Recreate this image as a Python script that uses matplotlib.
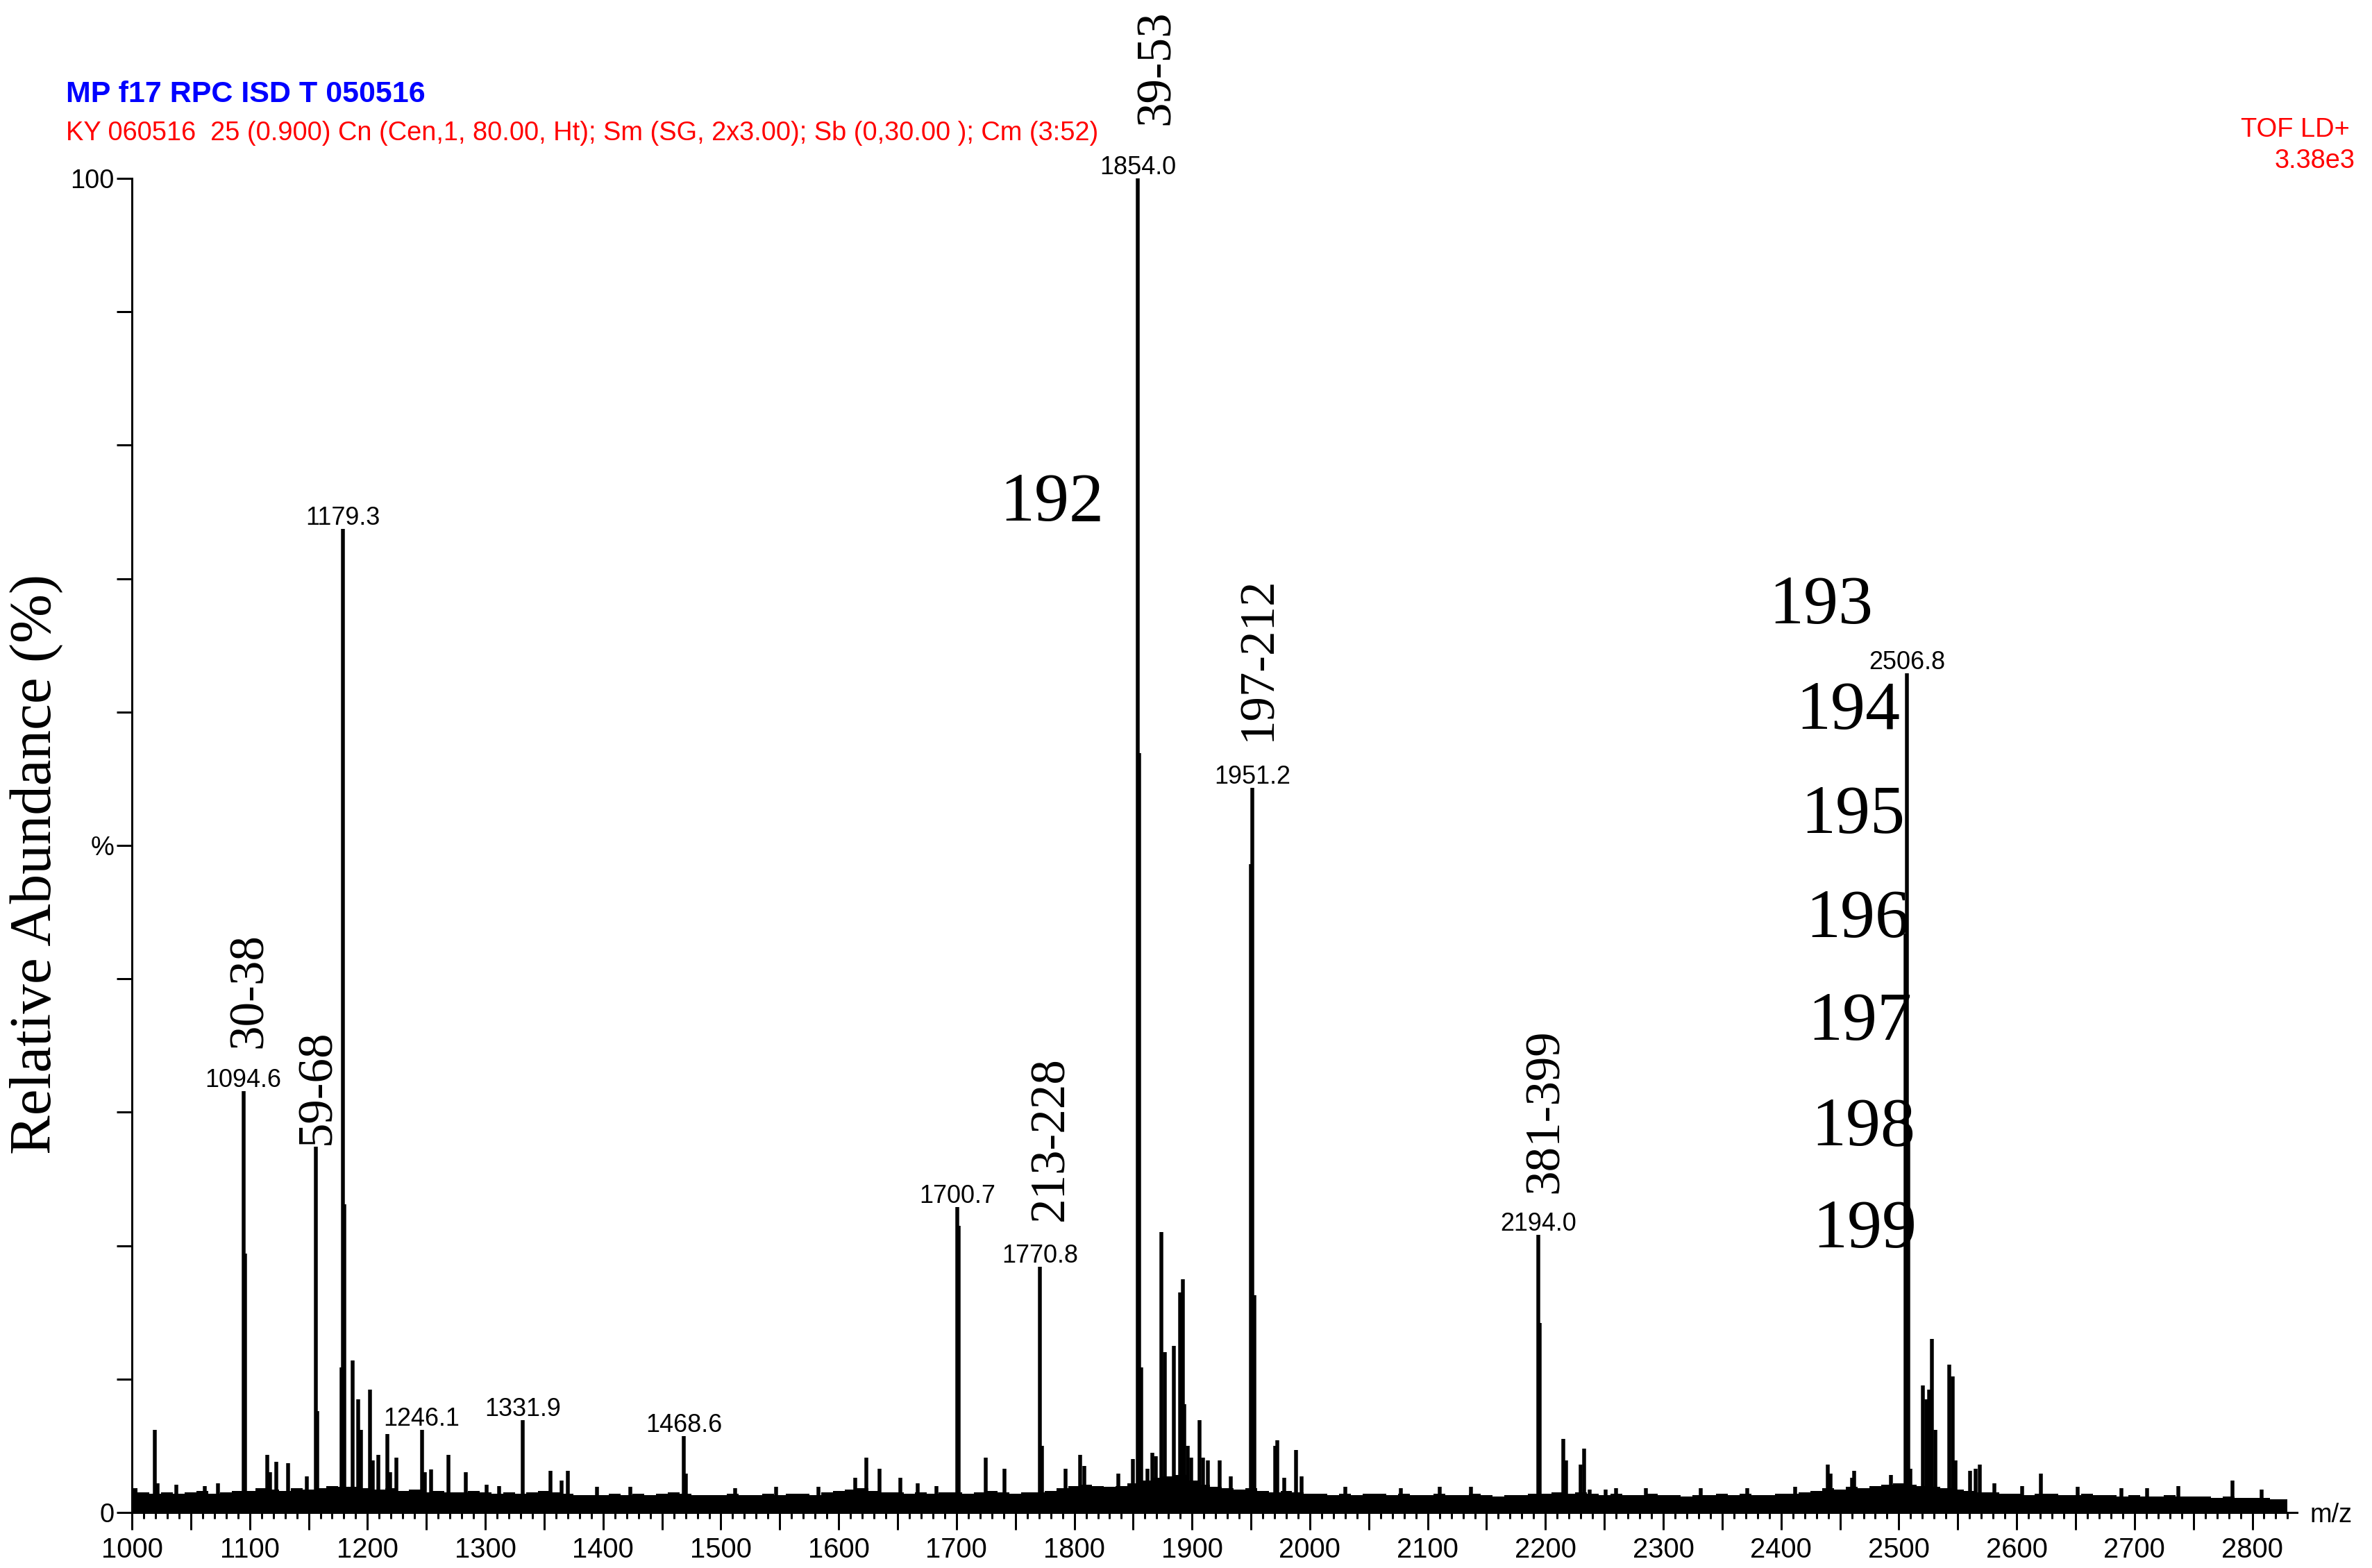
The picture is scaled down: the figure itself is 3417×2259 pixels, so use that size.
import matplotlib
matplotlib.use("Agg")
import matplotlib.pyplot as plt
import numpy as np

# figure geometry (pixels of the 3417 x 2259 reference)
W, H = 3417, 2259

# peak list: m/z and relative abundance (%)
peak_mz = [
    1019.3, 1021.6, 1094.6, 1095.8, 1114.9, 1117.5, 1122.8, 1132.6, 1148.7,
    1156.0, 1157.3, 1177.8, 1179.3, 1180.6, 1187.2, 1192.1, 1194.5, 1201.9,
    1204.3, 1209.2, 1216.7, 1219.0, 1224.3, 1246.1, 1248.6, 1254.0, 1268.7,
    1283.3, 1331.9, 1355.1, 1365.0, 1369.9, 1468.6, 1470.5, 1613.8, 1623.6,
    1634.5, 1652.1, 1700.7, 1701.9, 1724.8, 1740.5, 1770.8, 1772.5, 1792.6,
    1805.0, 1808.3, 1837.2, 1850.0, 1854.0, 1855.1, 1856.6, 1862.0, 1866.5,
    1869.0, 1874.2, 1876.8, 1884.3, 1889.6, 1891.9, 1893.5, 1896.5, 1899.5,
    1906.5, 1909.4, 1913.3, 1923.2, 1933.0, 1950.0, 1951.2, 1952.6, 1970.3,
    1972.3, 1978.1, 1988.0, 1992.9, 2194.0, 2195.3, 2215.0, 2217.3, 2230.1,
    2232.6, 2237.5, 2251.0, 2439.5, 2442.0, 2460.0, 2462.0, 2505.6, 2506.8,
    2508.2, 2509.6, 2520.6, 2523.4, 2525.8, 2528.3, 2531.2, 2542.8, 2545.6,
    2548.1, 2560.3, 2565.4, 2568.4, 2581.2, 2604.5, 2620.8, 2737.0, 2783.0,
    1038.0, 1062.0, 1073.0, 1301.0, 1312.0, 1395.0, 1423.0, 1512.0, 1547.0,
    1583.0, 1667.0, 1683.0, 2030.0, 2077.0, 2110.0, 2137.0, 2260.0, 2285.0,
    2332.0, 2371.0, 2412.0, 2493.0, 2652.0, 2689.0, 2711.0, 2808.0,
]
peak_pct = [
    6.2, 2.2, 31.6, 19.4, 4.3, 3.0, 3.8, 3.7, 2.7,
    27.4, 7.6, 10.9, 73.7, 23.1, 11.4, 8.5, 6.2, 9.2,
    3.9, 4.3, 5.9, 3.0, 4.1, 6.2, 3.0, 3.2, 4.3,
    3.0, 6.9, 3.1, 2.4, 3.1, 5.7, 2.9, 2.6, 4.1,
    3.3, 2.6, 22.9, 21.5, 4.1, 3.3, 18.4, 5.0, 3.3,
    4.3, 3.5, 2.9, 4.0, 100.0, 56.9, 10.9, 3.3, 4.5,
    4.2, 21.0, 12.0, 12.5, 16.5, 17.5, 8.1, 5.0, 4.1,
    6.9, 4.1, 3.9, 3.9, 2.7, 48.6, 54.3, 16.3, 5.0,
    5.4, 2.6, 4.7, 2.7, 20.8, 14.2, 5.5, 3.9, 3.6,
    4.8, 1.7, 1.7, 3.6, 2.9, 2.6, 3.1, 43.4, 62.9,
    28.9, 3.3, 9.5, 8.5, 9.2, 13.0, 6.2, 11.1, 10.2,
    3.9, 3.1, 3.3, 3.6, 2.2, 2.0, 2.9, 2.0, 2.4,
    2.1, 2.0, 2.2, 2.1, 2.0, 1.9, 1.9, 1.8, 1.9,
    1.9, 2.2, 2.0, 1.9, 1.8, 1.9, 1.9, 1.8, 1.8,
    1.8, 1.8, 1.9, 2.8, 1.9, 1.8, 1.8, 1.7,
]

# noise band top, read every 10 m/z from 1000
base_start, base_step = 1000, 10
base_pct = [
    1.8, 1.5, 1.4, 1.5, 1.4, 1.5, 1.6, 1.4, 1.5, 1.6,
    1.6, 1.8, 1.7, 1.6, 1.8, 1.7, 1.8, 2.0, 1.9, 1.9,
    1.8, 1.7, 1.8, 1.6, 1.7, 1.5, 1.6, 1.5, 1.5, 1.6,
    1.5, 1.4, 1.5, 1.4, 1.5, 1.6, 1.5, 1.4, 1.3, 1.3,
    1.3, 1.4, 1.3, 1.4, 1.3, 1.4, 1.5, 1.4, 1.3, 1.3,
    1.3, 1.4, 1.3, 1.3, 1.4, 1.3, 1.4, 1.4, 1.3, 1.5,
    1.6, 1.7, 1.8, 1.6, 1.5, 1.5, 1.4, 1.5, 1.4, 1.5,
    1.5, 1.4, 1.5, 1.6, 1.5, 1.4, 1.5, 1.5, 1.6, 1.8,
    2.0, 2.1, 2.0, 1.9, 2.0, 2.2, 2.4, 2.6, 2.7, 2.8,
    2.4, 2.1, 1.9, 1.8, 1.7, 1.8, 1.6, 1.5, 1.6, 1.5,
    1.4, 1.4, 1.3, 1.4, 1.3, 1.4, 1.4, 1.3, 1.4, 1.3,
    1.3, 1.4, 1.3, 1.3, 1.4, 1.3, 1.2, 1.3, 1.3, 1.4,
    1.4, 1.5, 1.4, 1.5, 1.4, 1.3, 1.4, 1.3, 1.3, 1.4,
    1.3, 1.3, 1.2, 1.3, 1.3, 1.4, 1.3, 1.4, 1.3, 1.3,
    1.4, 1.4, 1.5, 1.6, 1.8, 1.7, 1.9, 1.8, 2.0, 2.1,
    2.2, 2.1, 2.0, 1.9, 1.8, 1.7, 1.6, 1.5, 1.5, 1.4,
    1.4, 1.3, 1.4, 1.4, 1.3, 1.3, 1.4, 1.3, 1.3, 1.2,
    1.3, 1.2, 1.2, 1.3, 1.2, 1.2, 1.2, 1.1, 1.2, 1.1,
    1.1, 1.1, 1.0, 1.0,
]

# labelled peaks (m/z text above the line)
label_mz = [1094.6, 1179.3, 1246.1, 1331.9, 1468.6, 1700.7, 1770.8,
            1854.0, 1951.2, 2194.0, 2506.8]
label_pct = [31.6, 73.7, 6.2, 6.9, 5.7, 22.9, 18.4, 100.0, 54.3, 20.8, 62.9]

# residue-range annotations (rotated), positions in m/z and %
range_text = ["30-38", "59-68", "39-53", "213-228", "197-212", "381-399"]
range_x = [1100, 1158, 1870, 1780, 1956, 2200]
range_y = [39.1, 31.9, 108.3, 28.0, 64.0, 30.1]

# fragment numbers (upright, serif)
frag_text = ["192", "193", "194", "195", "196", "197", "198", "199"]
frag_x = [1781, 2434, 2457, 2461, 2465, 2467, 2470, 2471]
frag_y = [75.6, 67.9, 60.0, 52.2, 44.4, 36.7, 28.8, 21.1]

SANS = ["Liberation Sans Narrow", "Liberation Sans", "DejaVu Sans"]
SERIF = ["Liberation Serif", "DejaVu Serif"]


def px(v):
    # pixels -> points at dpi 100
    return v * 0.72


def main() -> None:
    fig = plt.figure(figsize=(W / 100, H / 100), dpi=100)
    left, right, top, bottom = 190, 3309, 257, 2179
    ax = fig.add_axes([left / W, 1 - bottom / H, (right - left) / W, (bottom - top) / H])

    base_mz = base_start + base_step * np.arange(len(base_pct))
    ax.fill_between(base_mz, 0, base_pct, step="mid", color="black", lw=0)
    ax.vlines(peak_mz, 0, peak_pct, color="black", lw=px(5.5))

    ax.set_xlim(1000, 2838)
    ax.set_ylim(0, 100)

    for s in ("top", "right"):
        ax.spines[s].set_visible(False)
    for s in ("left", "bottom"):
        ax.spines[s].set_linewidth(px(3))

    ax.set_xticks(np.arange(1000, 2801, 100))
    ax.set_xticklabels([str(v) for v in range(1000, 2801, 100)])
    ax.set_xticks(np.arange(1000, 2838, 50), minor=True)
    ax.tick_params(axis="x", which="major", length=18, width=px(3), pad=px(10),
                   labelsize=px(40), direction="out")
    ax.tick_params(axis="x", which="minor", length=18, width=px(3), direction="out")
    # 10 m/z small ticks
    small = [v for v in range(1000, 2838, 10) if v % 50]
    ax.vlines(small, -0.47, 0, color="black", lw=px(3), clip_on=False)

    ax.set_yticks(np.arange(0, 101, 10))
    ax.set_yticklabels(["0", "", "", "", "", "%", "", "", "", "", "100"])
    ax.tick_params(axis="y", length=16, width=px(3), pad=px(3),
                   labelsize=px(38), direction="out")
    for lab in ax.get_xticklabels() + ax.get_yticklabels():
        lab.set_family(SANS)

    for mz, pct in zip(label_mz, label_pct):
        ax.annotate(f"{mz:.1f}", (mz, pct), xytext=(0, -2), textcoords="offset pixels",
                    ha="center", va="bottom", fontsize=px(36), family=SANS,
                    annotation_clip=False)

    for t, x, y in zip(range_text, range_x, range_y):
        ax.text(x, y, t, rotation=90, ha="center", va="center",
                fontsize=px(71), family=SERIF, clip_on=False)

    for t, x, y in zip(frag_text, frag_x, frag_y):
        ax.text(x, y, t, ha="center", va="center", fontsize=px(100),
                family=SERIF, clip_on=False)

    fig.text(95 / W, 1 - 136 / H, "MP f17 RPC ISD T 050516", color="#0000ff",
             fontsize=px(43), fontweight="bold", family=SANS, va="center", ha="left")
    fig.text(95 / W, 1 - 192 / H,
             "KY 060516  25 (0.900) Cn (Cen,1, 80.00, Ht); Sm (SG, 2x3.00); "
             "Sb (0,30.00 ); Cm (3:52)",
             color="#ff0000", fontsize=px(38), family=SANS, va="center", ha="left")
    fig.text(3385 / W, 1 - 187 / H, "TOF LD+", color="#ff0000", fontsize=px(38),
             family=SANS, va="center", ha="right")
    fig.text(3392 / W, 1 - 232 / H, "3.38e3", color="#ff0000", fontsize=px(38),
             family=SANS, va="center", ha="right")
    fig.text(3358 / W, 1 - 2183 / H, "m/z", fontsize=px(38), family=SANS,
             va="center", ha="center")
    fig.text(52 / W, 1 - 1245 / H, "Relative Abundance (%)", rotation=90,
             fontsize=px(85), family=SERIF, va="center", ha="center")

    fig.savefig("out.png", dpi=100)


if __name__ == "__main__":
    main()
